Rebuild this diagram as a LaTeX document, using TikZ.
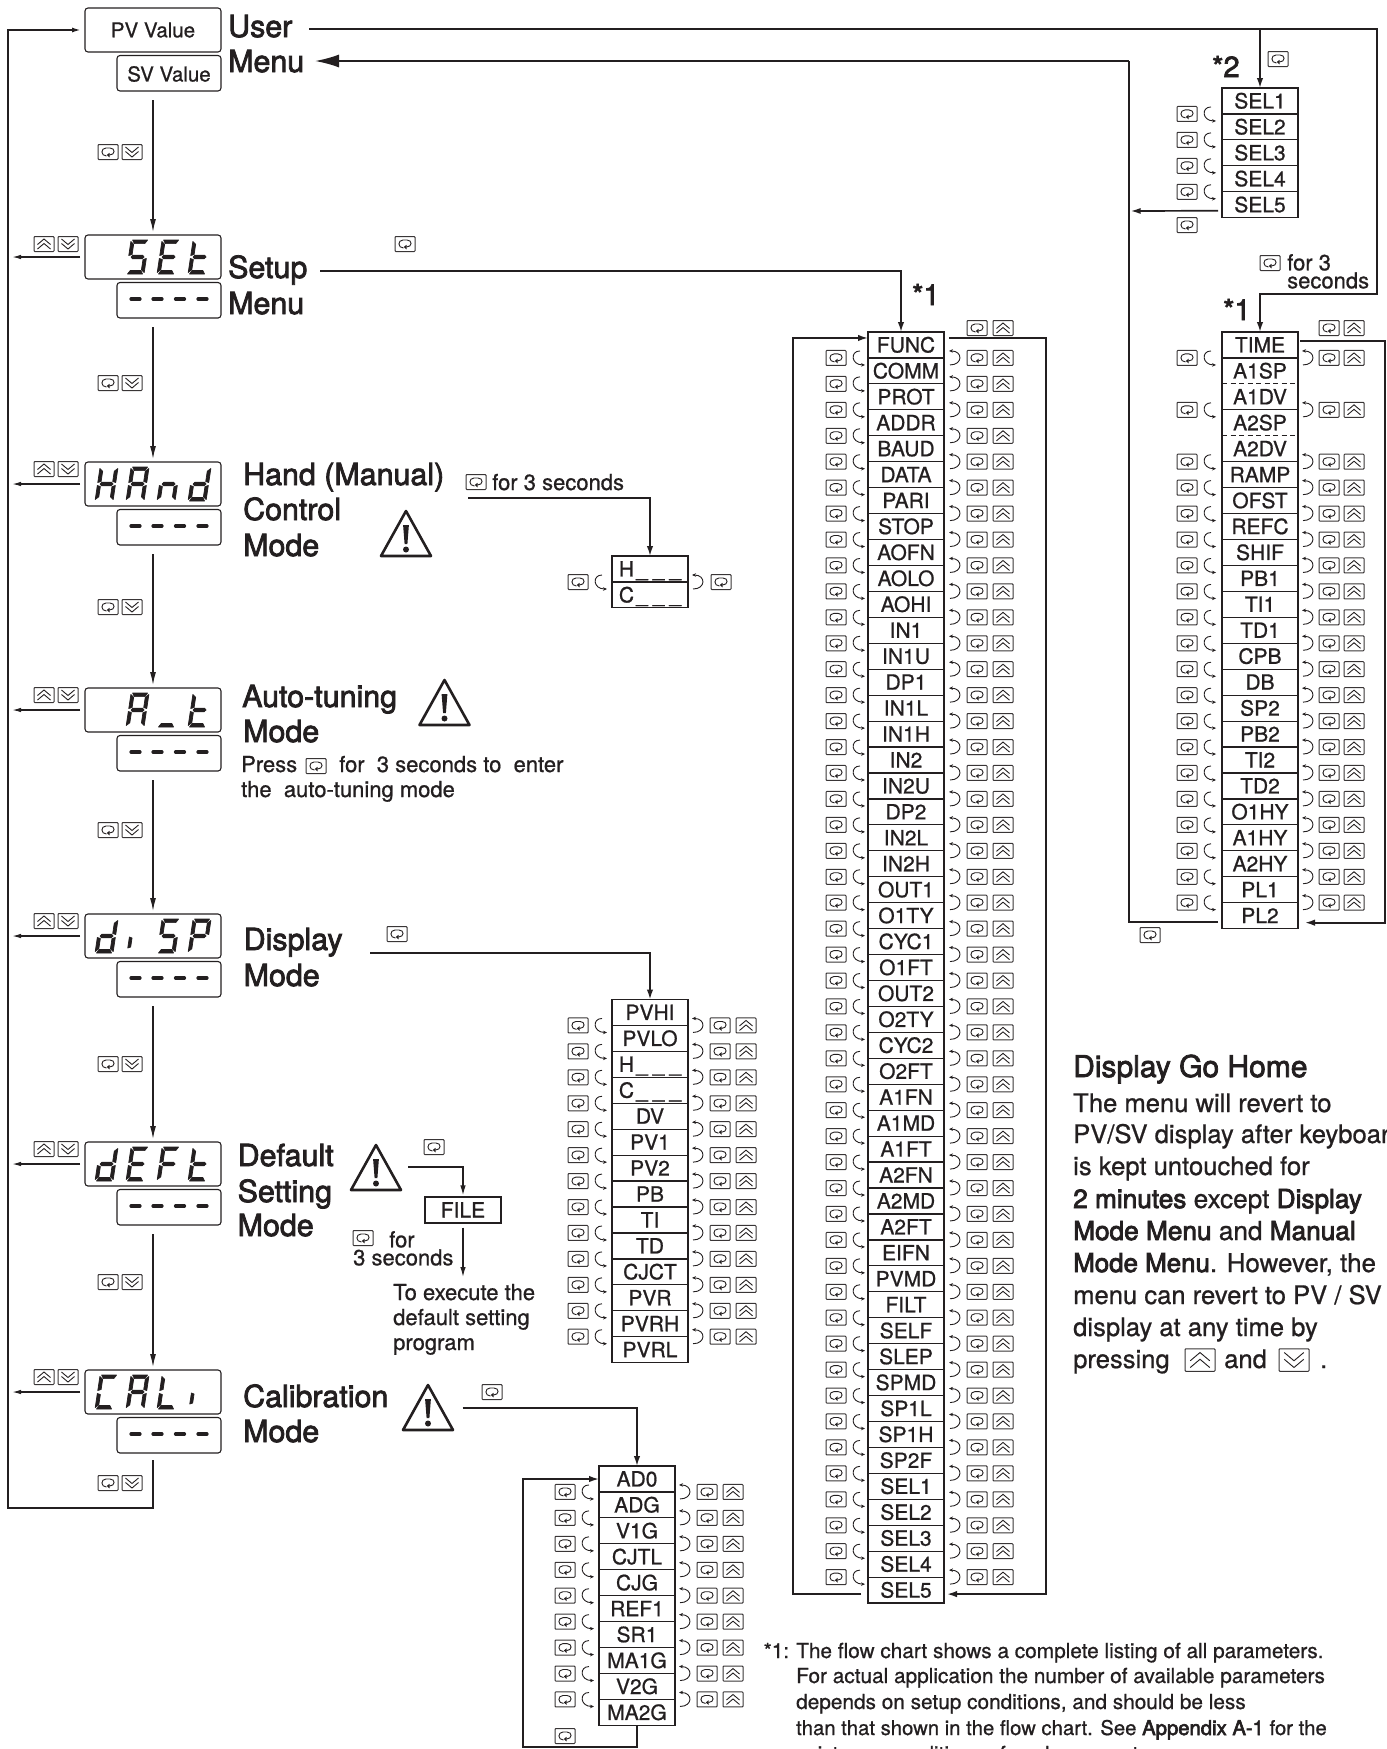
\documentclass[tikz,border=0pt]{standalone}
\usepackage{fontspec}
\setmainfont[FakeBold=0.8]{TeX Gyre Heros}
\newfontfamily\labfam[FakeBold=2.5]{TeX Gyre Heros}
\newfontfamily\strongfam[FakeBold=3]{TeX Gyre Heros}
\usetikzlibrary{arrows.meta,calc}
\definecolor{ink}{HTML}{231F20}
\tikzset{seg/.style={fill=ink,draw=ink,line width=.7pt,line join=round}}
\newcommand\ssa{\path[seg] (1.5,34)--(16.5,34)--(14.2,30.4)--(3.8,30.4)--cycle;}
\newcommand\ssd{\path[seg] (1.5,0)--(16.5,0)--(14.2,3.6)--(3.8,3.6)--cycle;}
\newcommand\ssg{\path[seg] (2.5,17)--(4.2,18.8)--(13.8,18.8)--(15.5,17)--(13.8,15.2)--(4.2,15.2)--cycle;}
\newcommand\ssf{\path[seg] (0,18.5)--(0,32.5)--(3.2,29.8)--(3.2,19.5)--cycle;}
\newcommand\ssb{\path[seg] (18,18.5)--(18,32.5)--(14.8,29.8)--(14.8,19.5)--cycle;}
\newcommand\sse{\path[seg] (0,1.5)--(0,15.5)--(3.2,14.5)--(3.2,4.2)--cycle;}
\newcommand\ssc{\path[seg] (18,1.5)--(18,15.5)--(14.8,14.5)--(14.8,4.2)--cycle;}
\newcommand\ssi{\path[seg] (1,5)--(1,16)--(3.8,15)--(3.8,6)--cycle;}
% readout{top of display}{position}{segments}
\newcommand\readout[3]{\begin{scope}[shift={(95+31*#2,#1+39)},x=1pt,y=1pt,xslant=0.15]
  \foreach \segn in {#3}{\csname ss\segn\endcsname}\end{scope}}
\newcommand\dashrow[1]{\foreach \dx in {131,153,175.5,198}{\draw[dashbar] (\dx,#1+64) -- (\dx+9,#1+64);}}
\newcommand\dispbox[2]{%
  \node[dispa] (#1a) at (85,#2) {};
  \node[dispb] (#1b) at (117,#2+47.5) {};}
\newcommand\leftcurl[3]{\pgfmathsetmacro\yy{#1}%
  \pic at (#2,\yy) {keyloop};
  \draw[curl] (#3-5,\yy-7) .. controls (#3-15,\yy-7) and (#3-14,\yy+7) .. (#3,\yy+7);}
\newcommand\rightcurl[4]{\pgfmathsetmacro\yy{#1}%
  \draw[curl] (#2+1,\yy+7) .. controls (#2+14,\yy+7) and (#2+14,\yy-7) .. (#2,\yy-7);
  \pic at (#3,\yy) {keyloop};
  \ifx\relax#4\relax\else\pic at (#4,\yy) {keyup};\fi}
% paramlist{prefix}{centre x}{top}{names}{count}
\newcommand\paramlist[5]{%
  \foreach \nm [count=\ci] in {#4}{\node[listrow] (#1\ci) at (#2,#3+\ci*25.94-12.97) {\nm};}
  \draw[rowln] (#11.north west) rectangle (#1#5.south east);}
\newcommand\seps[2]{\foreach \i in {#2}{\draw[rowln] (#1\i.south west) -- (#1\i.south east);}}
\newcommand\blankline{\kern2pt\_\kern5pt\_\kern5pt\_}
\tikzset{
  rowln/.style={draw=ink,line width=1.2pt},
  listrow/.style={inner sep=0pt,outer sep=0pt,minimum width=76pt,minimum height=25.94pt,text height=15pt,text depth=0pt,text=ink,font=\fontsize{21}{24}\selectfont},
  dispa/.style={draw=ink,line width=1.1pt,rounded corners=3pt,anchor=north west,inner sep=0pt,outer sep=0pt,minimum width=136pt,minimum height=44pt},
  dispb/.style={draw=ink,line width=1.1pt,rounded corners=3pt,anchor=north west,inner sep=0pt,outer sep=0pt,minimum width=104pt,minimum height=35.5pt},
  dashbar/.style={draw=ink,line width=3.2pt,line cap=round},
  curl/.style={draw=ink,line width=.9pt,-{Stealth[length=4pt,width=3.5pt]}},
  mainln/.style={draw=ink,line width=1.7pt,line join=miter},
  maintip/.style={mainln,-{Latex[length=10pt,width=6.5pt]}},
  vert/.style={draw=ink,line width=1.3pt,-{Latex[length=13pt,width=6pt]}},
  backarrow/.style={draw=ink,line width=1.3pt,-{Latex[length=9pt,width=4.5pt]}},
  txt/.style={anchor=base west,inner sep=0pt,text=ink,font=\fontsize{22}{26}\selectfont},
  tight/.style={anchor=north west,inner sep=0pt,align=left,text=ink,font=\fontsize{22}{18}\selectfont},
  lab/.style={anchor=base west,inner sep=0pt,text=ink,font=\labfam\fontsize{30.4}{36}\selectfont},
  home/.style={anchor=base west,inner sep=0pt,text=ink,font=\fontsize{25.6}{32}\selectfont},
  note/.style={anchor=base west,inner sep=0pt,text=ink,font=\fontsize{20.8}{26}\selectfont},
  keyframe/.style={draw=ink!90,line width=1pt,rounded corners=.8pt},
  keyloop/.pic={\draw[keyframe] (-10,-7.5) rectangle (10,7.5);
    \draw[draw=ink,line width=.9pt] (-1.5,4) .. controls (-7.5,4) and (-7.5,-4) .. (-2,-4) -- (2,-4) .. controls (7.5,-4) and (7.5,3) .. (1.5,3);
    \fill[ink] (1.5,.8) -- (1.5,5.4) -- (-1.2,3) -- cycle;},
  keyup/.pic={\draw[keyframe] (-10,-7.5) rectangle (10,7.5);
    \draw[draw=ink,line width=.9pt] (-6.5,.5) -- (0,-5) -- (6.5,.5) (-6.5,5) -- (0,-.5) -- (6.5,5);},
  keydown/.pic={\draw[keyframe] (-10,-7.5) rectangle (10,7.5);
    \draw[draw=ink,line width=.9pt] (-6.5,-.5) -- (0,5) -- (6.5,-.5) (-6.5,-5) -- (0,.5) -- (6.5,-5);},
  warn/.pic={\draw[draw=ink,line width=2.6pt,line join=round] (-25,0) -- (25,0) -- (0,-45) -- cycle;
    \fill[ink] (-2.9,-31) -- (2.9,-31) -- (1.4,-12) -- (-1.4,-12) -- cycle;
    \fill[ink] (0,-6.5) circle (3);}
}
\begin{document}
\begin{tikzpicture}[x=1pt,y=-1pt]
\clip (0,0) rectangle (1387,1749);
\useasboundingbox (0,0) rectangle (1387,1749);

%% --- displays, left column
\dispbox{dPV}{8}
\dispbox{dSET}{235}
\dispbox{dHND}{462}
\dispbox{dAT}{688}
\dispbox{dDSP}{914}
\dispbox{dDEF}{1142}
\dispbox{dCAL}{1370}
\node[inner sep=0pt,text=ink,font=\fontsize{20.5}{24}\selectfont] (pvtext) at (153,30) {PV Value};
\node[inner sep=0pt,text=ink,font=\fontsize{20.5}{24}\selectfont] (svtext) at (169,74) {SV Value};
\readout{235}{1}{a,f,g,c,d}\readout{235}{2}{a,f,g,e,d}\readout{235}{3}{f,g,e,d}
\readout{462}{0}{f,b,g,e,c}\readout{462}{1}{a,b,c,e,f,g}\readout{462}{2}{e,g,c}\readout{462}{3}{b,c,d,e,g}
\readout{688}{1}{a,b,c,e,f,g}\readout{688}{2}{d}\readout{688}{3}{f,g,e,d}
\readout{914}{0}{b,c,d,e,g}\readout{914}{1}{i}\readout{914}{2}{a,f,g,c,d}\readout{914}{3}{a,b,f,g,e}
\readout{1142}{0}{b,c,d,e,g}\readout{1142}{1}{a,f,g,e,d}\readout{1142}{2}{a,f,g,e}\readout{1142}{3}{f,g,e,d}
\readout{1370}{0}{a,f,e,d}\readout{1370}{1}{a,b,c,e,f,g}\readout{1370}{2}{f,e,d}\readout{1370}{3}{i}
\dashrow{235}\dashrow{462}\dashrow{688}\dashrow{914}\dashrow{1142}\dashrow{1370}

%% --- left column connectors
\draw[vert] ($(dPVa.south |- dPVb.south)+(0,9)$) -- ($(dSETa.north)+(0,-3)$);
\draw[vert] ($(dSETa.south |- dSETb.south)+(0,9)$) -- ($(dHNDa.north)+(0,-3)$);
\draw[vert] ($(dHNDa.south |- dHNDb.south)+(0,9)$) -- ($(dATa.north)+(0,-3)$);
\draw[vert] ($(dATa.south |- dATb.south)+(0,9)$) -- ($(dDSPa.north)+(0,-3)$);
\draw[vert] ($(dDSPa.south |- dDSPb.south)+(0,9)$) -- ($(dDEFa.north)+(0,-3)$);
\draw[vert] ($(dDEFa.south |- dDEFb.south)+(0,9)$) -- ($(dCALa.north)+(0,-3)$);
\coordinate (homeback) at (8,1508);
\draw[mainln,-{Latex[length=9pt,width=5pt]}] ($(dCALa.south |- dCALb.south)+(0,7)$) |- (homeback) -- (8,30) -- ($(dPVa.west)+(-4,0)$);
\foreach \dn in {dSET,dHND,dAT,dDSP,dDEF,dCAL}{\draw[backarrow] ([xshift=-5pt]\dn a.west) -- ++(-68,0);}
\foreach \ky in {152,383,607,830,1064,1282,1483}{\pic at (108,\ky) {keyloop};\pic at (132,\ky) {keydown};}
\foreach \ky in {244,469,695,921,1149,1377}{\pic at (44,\ky) {keyup};\pic at (68,\ky) {keydown};}

%% --- left column labels
\node[lab] (lUser) at (228,37) {User};
\node[lab] (lMenu) at (228,72) {Menu};
\node[lab] (lSetup) at (228,278) {Setup};
\node[lab] (lSMenu) at (228,314) {Menu};
\node[lab] (lHand) at (243,485) {Hand (Manual)};
\node[lab] (lCtl) at (243,520) {Control};
\node[lab] (lHMode) at (243,556) {Mode};
\pic at (406,556) {warn};
\node[lab] (lAuto) at (242,707) {Auto-tuning};
\node[lab] (lAMode) at (243,742) {Mode};
\pic at (444.5,725) {warn};
\node[txt] (tPress) at (241,772) {Press};
\pic at (316,766) {keyloop};
\node[txt] (tPress2) at (339,772) {for\ \ 3 seconds to\ \ enter};
\node[txt] (tPress3) at (241,797) {the\ \ auto-tuning mode};
\node[lab] (lDisp) at (243.5,950) {Display};
\node[lab] (lDMode) at (243.5,986) {Mode};
\node[lab] (lDef) at (237.5,1166) {Default};
\node[lab] (lDSet) at (237.5,1202) {Setting};
\node[lab] (lDefM) at (237.5,1236) {Mode};
\pic at (376,1190) {warn};
\node[lab] (lCal) at (243,1407) {Calibration};
\node[lab] (lCMode) at (243,1442) {Mode};
\pic at (428,1430) {warn};

%% --- main list
\paramlist{m}{906}{332}{FUNC,COMM,PROT,ADDR,BAUD,DATA,PARI,STOP,AOFN,AOLO,AOHI,IN1,IN1U,DP1,IN1L,IN1H,IN2,IN2U,DP2,IN2L,IN2H,OUT1,O1TY,CYC1,O1FT,OUT2,O2TY,CYC2,O2FT,A1FN,A1MD,A1FT,A2FN,A2MD,A2FT,EIFN,PVMD,FILT,SELF,SLEP,SPMD,SP1L,SP1H,SP2F,SEL1,SEL2,SEL3,SEL4,SEL5}{49}
\seps{m}{1,...,48}
\foreach \i in {1,...,48}{\leftcurl{332+\i*25.94}{836}{865}\rightcurl{332+\i*25.94}{949}{977}{1003}}
\pic at (977,328) {keyloop};\pic at (1003,328) {keyup};
\pic at (405,244) {keyloop};
\coordinate (setS) at (320,271);
\draw[maintip] (setS) -| ([xshift=-5pt]m1.north);
\draw[maintip] ([shift={(-7pt,-4pt)}]m49.west) -- ++(-68,0) |- ([yshift=7pt]m1.west);
\draw[maintip] ([shift={(5pt,7pt)}]m1.east) -- ++(97,0) |- ([shift={(3pt,-4pt)}]m49.east);
\node[lab,font=\labfam\fontsize{29}{34}\selectfont] (star1a) at (912,305) {*1};

%% --- SEL list
\paramlist{s}{1260}{88}{SEL1,SEL2,SEL3,SEL4,SEL5}{5}
\seps{s}{1,...,4}
\foreach \i in {1,...,4}{\leftcurl{88+\i*25.94}{1187}{1216}}
\pic at (1187,225) {keyloop};
\pic at (1278,59) {keyloop};
\node[lab,font=\labfam\fontsize{29}{34}\selectfont] (star2) at (1212,77) {*2};

%% --- right list
\paramlist{r}{1260}{332}{TIME,A1SP,A1DV,A2SP,A2DV,RAMP,OFST,REFC,SHIF,PB1,TI1,TD1,CPB,DB,SP2,PB2,TI2,TD2,O1HY,A1HY,A2HY,PL1,PL2}{23}
\seps{r}{1,3,5,6,...,22}
\foreach \i in {2,4}{\draw[rowln,dashed,dash pattern=on 5pt off 3.5pt] (r\i.south west) -- (r\i.south east);}
\foreach \i in {1,3,5,6,...,22}{\leftcurl{332+\i*25.94}{1187}{1216}\rightcurl{332+\i*25.94}{1302}{1329}{1354}}
\pic at (1329,328) {keyloop};\pic at (1354,328) {keyup};
\pic at (1150,935) {keyloop};
\pic at (1270,263) {keyloop};
\node[tight] (tFor3) at (1287,254) {for 3\\seconds};
\node[lab,font=\labfam\fontsize{29}{34}\selectfont] (star1b) at (1223,320) {*1};

%% --- user / menu connectors
\coordinate (uS) at (309,29);
\coordinate (uJ) at (1260,29);
\coordinate (menuTip) at (315,61);
\coordinate (menuRail) at (1129,61);
\draw[mainln] (uS) -- (uJ);
\draw[maintip] (uJ) -- (s1.north);
\draw[maintip] (uJ) -- (1377,29) -- (1377,294) -- (1260,294) -- (r1.north);
\draw[maintip] ([shift={(2pt,4pt)}]r1.east) -- ++(85,0) |- ([shift={(7pt,-7pt)}]r23.east);
\draw[mainln] ([shift={(-4pt,-6pt)}]r23.west) -| (menuRail);
\draw[mainln,-{Latex[length=24pt,width=13pt]}] (menuRail) -- (menuTip);
\draw[mainln,-{Latex[length=10pt,width=6pt]}] ([shift={(-4pt,-6pt)}]s5.west) -- (1130.5,211);

%% --- hand list
\paramlist{h}{650}{556}{H\blankline,C\blankline}{2}
\seps{h}{1}
\leftcurl{582}{578}{607}\rightcurl{582}{692}{721}{}
\pic at (476,482) {keyloop};
\node[txt] (tFor) at (492,490) {for 3 seconds};
\coordinate (hS) at (468,498);
\draw[maintip] (hS) -| (h1.north);

%% --- display list
\paramlist{d}{650}{999.5}{PVHI,PVLO,H\blankline,C\blankline,DV,PV1,PV2,PB,TI,TD,CJCT,PVR,PVRH,PVRL}{14}
\seps{d}{1,...,13}
\foreach \i in {1,...,13}{\leftcurl{999.5+\i*25.94}{578}{607}\rightcurl{999.5+\i*25.94}{692}{720}{746}}
\pic at (397,934) {keyloop};
\coordinate (dS) at (370,953);
\draw[maintip] (dS) -| (d1.north);

%% --- default setting branch
\pic at (434,1147) {keyloop};
\coordinate (fS) at (408,1167);
\node[rowln,inner sep=0pt,minimum width=76pt,minimum height=26pt,text height=15pt,text depth=0pt,text=ink,font=\fontsize{21}{24}\selectfont] (file) at (463,1210) {FILE};
\draw[draw=ink,line width=1.3pt,-{Latex[length=10pt,width=5.5pt]}] (fS) -| ($(file.north)+(0,-1)$);
\coordinate (fE) at (463,1277);
\draw[draw=ink,line width=1.3pt,-{Latex[length=10pt,width=5.5pt]}] ($(file.south)+(0,4)$) -- (fE);
\pic at (363,1238) {keyloop};
\node[tight] (tFor4) at (353,1231) {\hspace*{36pt}for\\3 seconds};
\node[txt] (tExe1) at (393,1300) {To execute the};
\node[txt] (tExe2) at (393,1325) {default setting};
\node[txt] (tExe3) at (393,1350) {program};

%% --- calibration list
\paramlist{c}{637}{1466}{AD0,ADG,V1G,CJTL,CJG,REF1,SR1,MA1G,V2G,MA2G}{10}
\seps{c}{1,...,9}
\foreach \i in {1,...,9}{\leftcurl{1466+\i*25.94}{565}{594}\rightcurl{1466+\i*25.94}{679}{707}{733}}
\pic at (492,1392) {keyloop};
\coordinate (cS) at (462.5,1408);
\draw[maintip] (cS) -| (c1.north);
\coordinate (cB) at (523,1747);
\draw[maintip] (c10.south) |- (cB) |- ([yshift=-1pt]c1.west |- 0,1478);
\pic at (565,1736) {keyloop};

%% --- Display Go Home
\node[home,font=\labfam\fontsize{30}{36}\selectfont] (gTitle) at (1073,1077) {Display Go Home};
\node[home] (g1) at (1073,1112) {The menu will revert to};
\node[home] (g2) at (1073,1143) {PV/SV display after keyboar};
\node[home] (g3) at (1073,1175) {is kept untouched for};
\node[home,font=\fontsize{26.2}{32}\selectfont] (g4) at (1073,1208) {{\strongfam 2 minutes} except {\strongfam Display}};
\node[home,font=\fontsize{26.2}{32}\selectfont] (g5) at (1073,1240) {{\strongfam Mode Menu} and {\strongfam Manual}};
\node[home,font=\fontsize{25.9}{32}\selectfont] (g6) at (1073,1272) {{\strongfam Mode Menu}. However, the};
\node[home] (g7) at (1073,1304) {menu can revert to PV / SV};
\node[home] (g8) at (1073,1336) {display at any time by};
\node[home] (g9) at (1073,1368) {pressing};
\pic[scale=1.5] at (1200,1360) {keyup};
\node[home] (g10) at (1224,1368) {and};
\pic[scale=1.5] at (1294,1360) {keydown};
\node[home] (g11) at (1320,1368) {.};

%% --- footnote
\node[note] (n0) at (763.5,1658) {*1:};
\node[note] (n1) at (796,1658) {The flow chart shows a complete listing of all parameters.};
\node[note] (n2) at (796,1683) {For actual application the number of available parameters};
\node[note] (n3) at (796,1709) {depends on setup conditions, and should be less};
\node[note,font=\fontsize{20.3}{26}\selectfont] (n4) at (796,1735) {than that shown in the flow chart. See {\strongfam Appendix A-1} for the};
\node[note] (n5) at (796,1761) {existence conditions of each parameter.};
\end{tikzpicture}
\end{document}
